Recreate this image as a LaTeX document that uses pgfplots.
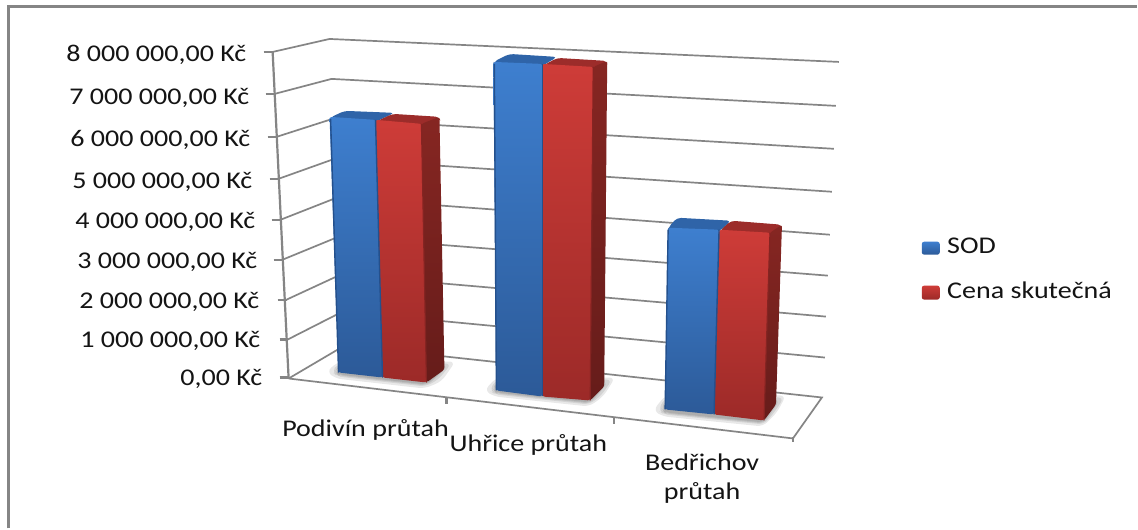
\documentclass[border=0pt]{standalone}
\usepackage{pgfplots}
\pgfplotsset{compat=1.18}
\usepackage{fontspec}
\setmainfont{Carlito}
\definecolor{gridc}{HTML}{858585}
\definecolor{bluetop}{HTML}{3E7FCF}
\definecolor{bluebot}{HTML}{2C5A98}
\definecolor{bluecap}{HTML}{2F64A8}
\definecolor{bluedark}{HTML}{24508C}
\definecolor{redtop}{HTML}{CE3C38}
\definecolor{redbot}{HTML}{9C2A28}
\definecolor{redcap}{HTML}{9C2C2A}
\definecolor{sidetop}{HTML}{862622}
\definecolor{sidebot}{HTML}{661C1A}
\tikzset{
  lab/.style={inner sep=0pt,font=\fontsize{12}{14}\selectfont,text=black!92,xscale=1.17},
}
\pgfplotsset{
  gridl/.style={gridc,line width=0.85pt,no markers,forget plot},
  tickl/.style={gridc,line width=1.1pt,no markers,forget plot},
  sh/.style={draw=none,fill=black,fill opacity=0.09,rounded corners=3pt,no markers,forget plot},
  bluef/.style={draw=none,top color=bluetop,bottom color=bluebot,rounded corners=1.2pt,no markers,forget plot},
  redf/.style={draw=none,top color=redtop,bottom color=redbot,rounded corners=1.2pt,no markers,forget plot},
  sidef/.style={draw=none,top color=sidetop,bottom color=sidebot,rounded corners=1.2pt,no markers,forget plot},
  capb/.style={draw=none,fill=bluecap,rounded corners=2pt,no markers,forget plot},
  capr/.style={draw=none,fill=redcap,rounded corners=2pt,no markers,forget plot},
  edgeb/.style={bluedark,line width=0.7pt,no markers,forget plot},
  edger/.style={redbot!85!black,line width=0.6pt,no markers,forget plot},
}
\begin{document}
\begin{tikzpicture}
\begin{axis}[
  scale only axis, width=569pt, height=264.5pt,
  xmin=0, xmax=1138, ymin=0, ymax=529, y dir=reverse,
  hide axis, clip=false]
% page and outer frame
\addplot[draw=none,fill=white,forget plot] coordinates {(0,0)(1138,0)(1138,529)(0,529)} -- cycle;
\addplot[gridc,line width=1.5pt,no markers,forget plot] coordinates {(8.5,529)(8.5,6.5)(1138,6.5)};

% gridlines: left wall and back wall, one per level 8M .. 1M
\addplot[gridl] coordinates {(273,52)(330,39)(840,62)};
\addplot[gridl] coordinates {(275,94)(332,79)(837,106)};
\addplot[gridl] coordinates {(277,137)(333,119)(835,149)};
\addplot[gridl] coordinates {(279,179)(335,159)(833,192)};
\addplot[gridl] coordinates {(281,220)(337,198)(831,235)};
\addplot[gridl] coordinates {(283,260)(339,237)(829,276)};
\addplot[gridl] coordinates {(287,300)(341,275)(827,317)};
\addplot[gridl] coordinates {(288,340)(343,312)(826,358)};
% floor
\addplot[gridl] coordinates {(289,379)(345,346)(823,398)(794,439)(289,379)};
% value axis and ticks
\addplot[tickl] coordinates {(273,52)(289,379)};
\addplot[tickl] coordinates {(264,52)(273,52)};
\addplot[tickl] coordinates {(266,94)(275,94)};
\addplot[tickl] coordinates {(268,137)(277,137)};
\addplot[tickl] coordinates {(270,179)(279,179)};
\addplot[tickl] coordinates {(272,220)(281,220)};
\addplot[tickl] coordinates {(274,260)(283,260)};
\addplot[tickl] coordinates {(278,300)(287,300)};
\addplot[tickl] coordinates {(280,340)(288,340)};
\addplot[tickl] coordinates {(280,378)(289,378)};
\addplot[tickl] coordinates {(447,398)(447,405)};
\addplot[tickl] coordinates {(615,419)(615,425)};
\addplot[tickl] coordinates {(794,438)(794,443)};

% soft shadows on the floor
\addplot[sh] coordinates {(327,372)(339,362)(456,362)(442,382)(425,389)(336,379)} -- cycle;
\addplot[sh] coordinates {(332,372)(339,364)(452,364)(439,380)(426,387)(338,377)} -- cycle;
\addplot[sh] coordinates {(335,373)(339,366)(449,366)(436,379)(427,386)(339,376)} -- cycle;
\addplot[sh] coordinates {(337,373)(339,368)(447,368)(434,379)(427,385)(339,375)} -- cycle;
\addplot[sh] coordinates {(485,391)(497,378)(616,378)(604,397)(590,407)(495,397)} -- cycle;
\addplot[sh] coordinates {(490,391)(497,380)(613,380)(602,396)(590,405)(496,395)} -- cycle;
\addplot[sh] coordinates {(493,391)(497,382)(609,382)(600,394)(591,404)(497,394)} -- cycle;
\addplot[sh] coordinates {(495,391)(497,384)(607,384)(598,394)(591,403)(497,393)} -- cycle;
\addplot[sh] coordinates {(654,411)(666,396)(787,396)(778,413)(764,427)(664,417)} -- cycle;
\addplot[sh] coordinates {(659,411)(666,398)(785,398)(776,412)(765,425)(665,415)} -- cycle;
\addplot[sh] coordinates {(662,411)(666,400)(781,400)(774,411)(765,424)(666,414)} -- cycle;
\addplot[sh] coordinates {(664,411)(666,402)(779,402)(772,411)(765,423)(666,413)} -- cycle;

% Bar 1: Podivin prutah
\addplot[capb] coordinates {(330,118)(345,111)(395,113)(376,122)(330,122)} -- cycle;
\addplot[capr] coordinates {(376,122)(393,114)(440,117)(441,122)(422,128)} -- cycle;
\addplot[sidef] coordinates {(422,124)(440,117)(445,370)(427,383)} -- cycle;
\addplot[bluef] coordinates {(330,117)(376,120)(383,378)(339,373)} -- cycle;
\addplot[redf] coordinates {(376,120)(422,124)(427,383)(383,378)} -- cycle;
\addplot[edgeb] coordinates {(376,120)(383,378)};
\addplot[edgeb] coordinates {(331,119)(339,373)};
\addplot[edger] coordinates {(422,124)(427,383)};

% Bar 2: Uhrice prutah
\addplot[capb] coordinates {(494,62)(510,54)(558,57)(543,66)(494,66)} -- cycle;
\addplot[capr] coordinates {(543,66)(558,58)(608,61)(608,66)(594,71)} -- cycle;
\addplot[sidef] coordinates {(594,67)(608,61)(605,387)(591,401)} -- cycle;
\addplot[bluef] coordinates {(494,62)(543,64)(543,397)(497,391)} -- cycle;
\addplot[redf] coordinates {(543,64)(594,67)(591,401)(543,397)} -- cycle;
\addplot[edgeb] coordinates {(543,64)(543,397)};
\addplot[edgeb] coordinates {(495,64)(497,391)};
\addplot[edger] coordinates {(594,67)(591,401)};

% Bar 3: Bedrichov prutah
\addplot[capb] coordinates {(669,228)(678,218)(732,221)(720,232)(669,232)} -- cycle;
\addplot[capr] coordinates {(720,232)(732,221)(783,225)(783,230)(771,237)} -- cycle;
\addplot[sidef] coordinates {(771,233)(783,225)(777,405)(765,421)} -- cycle;
\addplot[bluef] coordinates {(669,228)(720,230)(715,415)(666,410)} -- cycle;
\addplot[redf] coordinates {(720,230)(771,233)(765,421)(715,415)} -- cycle;
\addplot[edgeb] coordinates {(720,230)(715,415)};
\addplot[edgeb] coordinates {(669,230)(666,410)};
\addplot[edger] coordinates {(771,233)(765,421)};

% legend keys
\addplot[bluef] coordinates {(923,242)(941,242)(941,255)(923,255)} -- cycle;
\addplot[redf] coordinates {(923,286)(941,286)(941,300)(923,300)} -- cycle;

% value labels
\node[lab,anchor=base east] at (axis cs:247,61.5) {8 000 000,00 Kč};
\node[lab,anchor=base east] at (axis cs:250,104.5) {7 000 000,00 Kč};
\node[lab,anchor=base east] at (axis cs:251,146.5) {6 000 000,00 Kč};
\node[lab,anchor=base east] at (axis cs:253,188.5) {5 000 000,00 Kč};
\node[lab,anchor=base east] at (axis cs:256,229) {4 000 000,00 Kč};
\node[lab,anchor=base east] at (axis cs:258,268.5) {3 000 000,00 Kč};
\node[lab,anchor=base east] at (axis cs:260,308.5) {2 000 000,00 Kč};
\node[lab,anchor=base east] at (axis cs:261,348) {1 000 000,00 Kč};
\node[lab,anchor=base east] at (axis cs:263,386.5) {0,00 Kč};
% category labels
\node[lab,anchor=base] at (axis cs:366,437) {Podivín průtah};
\node[lab,anchor=base] at (axis cs:529,452) {Uhřice průtah};
\node[lab,anchor=base] at (axis cs:703,471) {Bedřichov};
\node[lab,anchor=base] at (axis cs:703,500) {průtah};
% legend labels
\node[lab,anchor=base west] at (axis cs:948,254) {SOD};
\node[lab,anchor=base west] at (axis cs:948,299) {Cena skutečná};
\end{axis}
\end{tikzpicture}
\end{document}
